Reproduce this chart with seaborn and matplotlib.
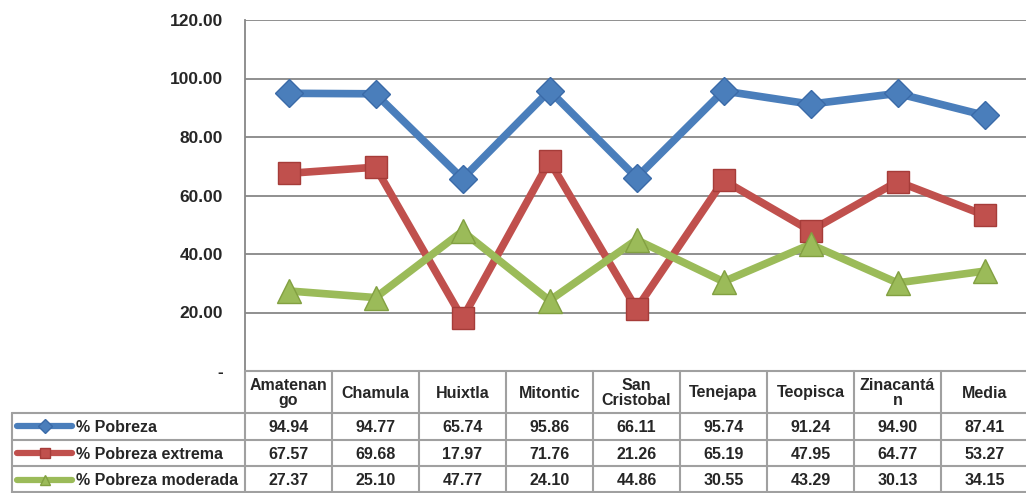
import pandas as pd
import numpy as np
import matplotlib.pyplot as plt
from matplotlib.lines import Line2D
import seaborn as sns

municipios = ['Amatenan\ngo', 'Chamula', 'Huixtla', 'Mitontic', 'San\nCristobal',
              'Tenejapa', 'Teopisca', 'Zinacantá\nn', 'Media']
series = ['% Pobreza', '% Pobreza extrema', '% Pobreza moderada']
pobreza = [94.94, 94.77, 65.74, 95.86, 66.11, 95.74, 91.24, 94.90, 87.41]
pobreza_extrema = [67.57, 69.68, 17.97, 71.76, 21.26, 65.19, 47.95, 64.77, 53.27]
pobreza_moderada = [27.37, 25.10, 47.77, 24.10, 44.86, 30.55, 43.29, 30.13, 34.15]
yticks = [0, 20, 40, 60, 80, 100, 120]

colores = ['#4a7ebb', '#c0504d', '#9bbb59']
bordes = ['#3a6aa8', '#a63c39', '#82a041']
marcas = ['D', 's', '^']
tam_marca = [14, 16, 17]

sns.set_style('white')
plt.rcParams['font.family'] = ['Liberation Sans', 'DejaVu Sans']

df = pd.DataFrame({
    'pos': np.tile(np.arange(len(municipios)), 3),
    'valor': pobreza + pobreza_extrema + pobreza_moderada,
    'serie': np.repeat(series, len(municipios)),
})

W, H = 1026, 493
fig = plt.figure(figsize=(W / 100, H / 100), dpi=100)
left, right, top, bottom = 245, 1028, 20, 371
ax = fig.add_axes([left / W, 1 - bottom / H, (right - left) / W, (bottom - top) / H])

sns.lineplot(data=df, x='pos', y='valor', hue='serie', palette=colores,
             linewidth=5.5, legend=False, ax=ax, sort=False)
# markers drawn per series so each gets its own size
for i, (s, vals) in enumerate(zip(series, [pobreza, pobreza_extrema, pobreza_moderada])):
    ax.plot(np.arange(len(municipios)), vals, linestyle='none', marker=marcas[i],
            markersize=tam_marca[i], color=colores[i], markeredgecolor=bordes[i],
            markeredgewidth=1, zorder=5)

ax.set_xlim(-0.5, len(municipios) - 0.5)
ax.set_ylim(0, 120)
ax.set_yticks(yticks)
ax.set_yticklabels(['-' if v == 0 else f'{v:.2f}' for v in yticks],
                   fontsize=12.5, fontweight='bold')
ax.tick_params(axis='y', length=0, pad=16)
ax.set_xticks([])
ax.set_xlabel('')
ax.set_ylabel('')
ax.grid(axis='y', color='#878787', linewidth=1.3)
for sp in ['top', 'right', 'bottom']:
    ax.spines[sp].set_visible(False)
ax.spines['left'].set_color('#878787')
ax.spines['left'].set_linewidth(1.3)

# data table below the chart
tax = fig.add_axes([0, 0, 1, 1])
tax.set_xlim(0, W)
tax.set_ylim(H, 0)
tax.axis('off')
tax.patch.set_alpha(0)

colw = (right - left) / len(municipios)
head_top, head_bot, row_h = bottom, 413, 26.7
legend_left = 12
gc = '#a0a0a0'
lw = 1.5

edges_x = [left + i * colw for i in range(len(municipios) + 1)]
tax.plot([left, right], [head_top, head_top], color=gc, lw=lw)
for xe in edges_x:
    tax.plot([xe, xe], [head_top, H], color=gc, lw=lw)
tax.plot([legend_left, legend_left], [head_bot, H], color=gc, lw=lw)
for r in range(4):
    yy = head_bot + r * row_h
    tax.plot([legend_left, right], [yy, yy], color=gc, lw=lw)
tax.plot([legend_left, right], [H - 1, H - 1], color=gc, lw=lw)

for i, m in enumerate(municipios):
    tax.text(left + (i + 0.5) * colw, (head_top + head_bot) / 2 + 1, m,
             ha='center', va='center', fontsize=11.5, fontweight='bold', linespacing=1.0)

for r, (s, vals) in enumerate(zip(series, [pobreza, pobreza_extrema, pobreza_moderada])):
    yc = head_bot + (r + 0.5) * row_h
    tax.add_line(Line2D([17, 72], [yc, yc], color=colores[r], lw=4.5, solid_capstyle='round'))
    tax.add_line(Line2D([44.5], [yc], marker=marcas[r], markersize=7,
                        color=colores[r], markeredgecolor=bordes[r]))
    tax.text(76, yc + 1, s, ha='left', va='center', fontsize=11.5, fontweight='bold')
    for i, v in enumerate(vals):
        tax.text(left + (i + 0.5) * colw, yc + 1, f'{v:.2f}', ha='center', va='center',
                 fontsize=11.5, fontweight='bold')

fig.savefig('out.png', dpi=100)
